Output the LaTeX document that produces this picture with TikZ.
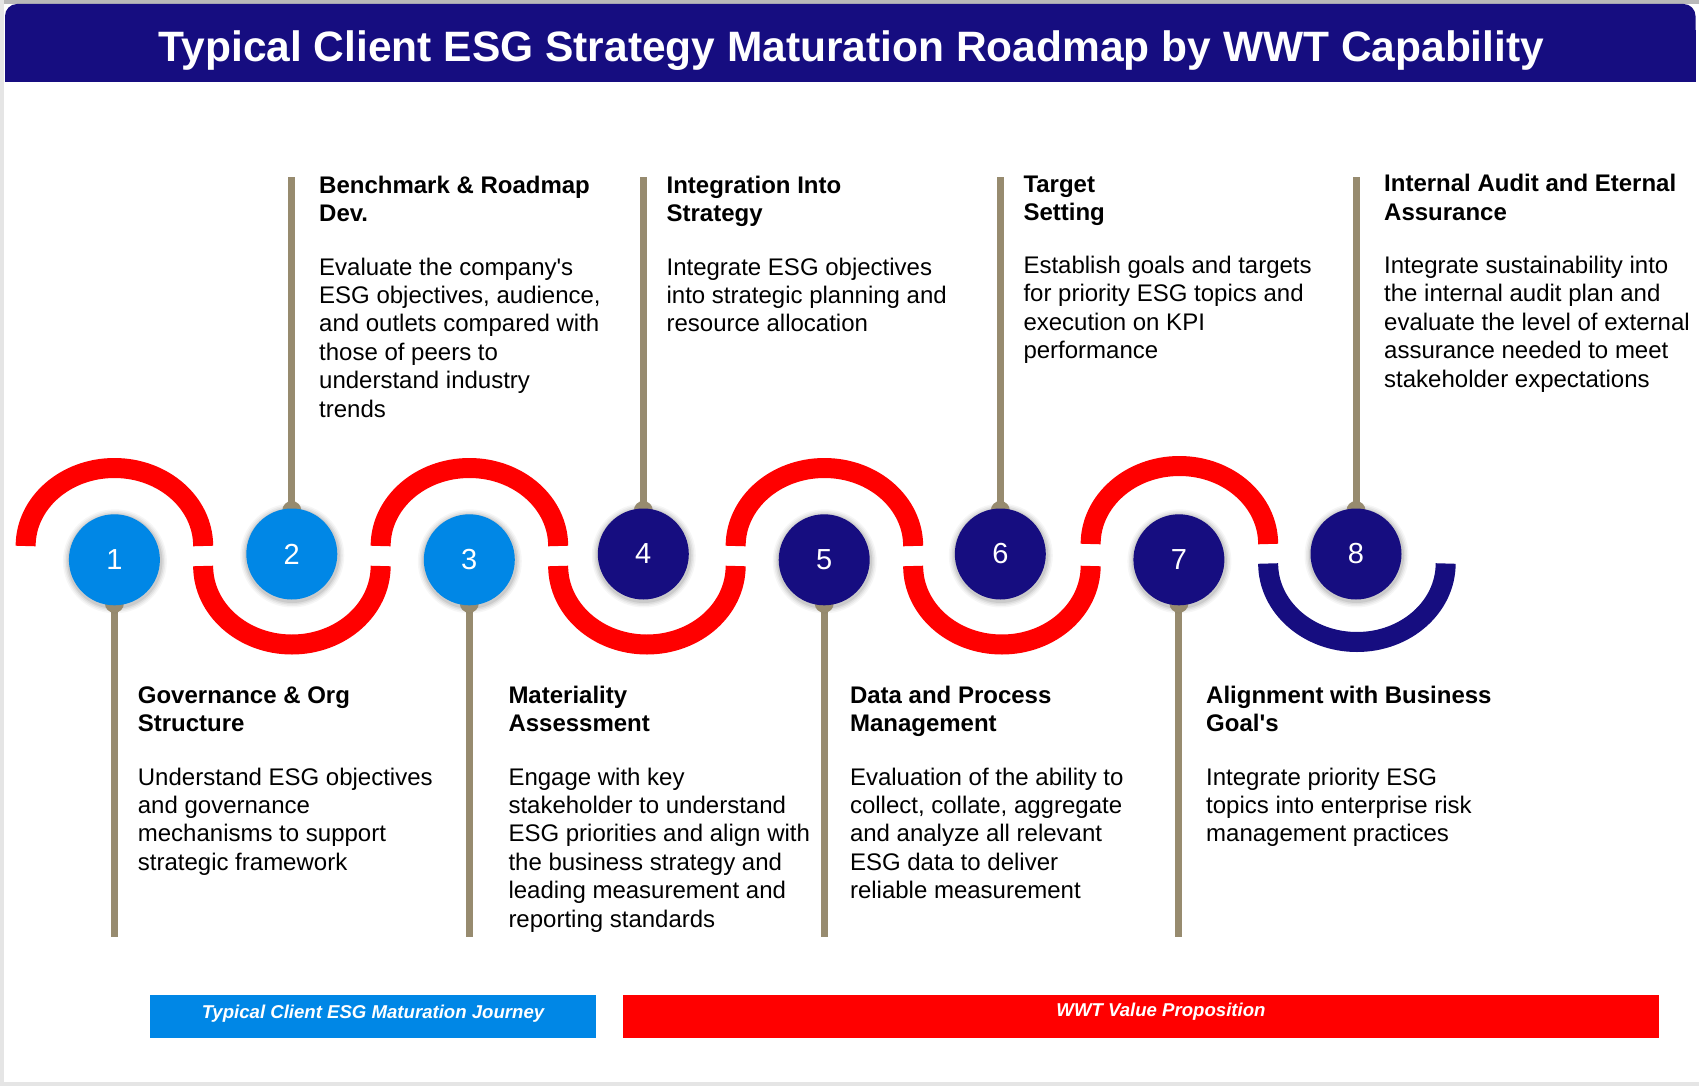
\documentclass[tikz,border=0pt]{standalone}
\usepackage{fontspec}
\setmainfont{Liberation Sans}
\definecolor{navy}{RGB}{22,13,128}
\definecolor{esgblue}{RGB}{0,135,230}
\definecolor{esgred}{RGB}{255,0,0}
\definecolor{pincol}{RGB}{151,139,111}
\definecolor{bggray}{RGB}{229,229,229}
\newcommand\li[1]{\hbox{#1}}
\newcommand\stk[1]{\vtop{\baselineskip=28.4pt\lineskiplimit=-50pt #1}}
\begin{document}
\begin{tikzpicture}[x=1pt,y=-1pt,
  stagenum/.style={circle, minimum size=91pt, inner sep=0pt, text=white, font=\fontsize{29}{29}\selectfont},
  wave/.style={line width=20pt},
  pinline/.style={draw=pincol, line width=7pt},
  ttl/.style={anchor=base west, inner sep=0pt, font=\fontsize{24}{28.4}\selectfont\bfseries},
  bdy/.style={anchor=base west, inner sep=0pt, font=\fontsize{24}{28.4}\selectfont},
  legbox/.style={inner sep=0pt, minimum height=42.7pt},
  legtext/.style={inner sep=0pt, text=white, font=\fontsize{18.6}{20}\selectfont\bfseries\itshape}]
\useasboundingbox (0,0) rectangle (1699,1086);
% background
\fill[bggray] (0,0) rectangle (1699,1086);
\fill[white] (4,4) rectangle (1699,1081.5);
\fill[gray!55] (4,0) rectangle (1699,4);
% title bar
\fill[navy, rounded corners=12pt] (5,4) rectangle (1695.5,60);
\fill[navy] (5,30) rectangle (1695.5,82);
\node[anchor=base, text=white, inner sep=0pt, font=\fontsize{42.5}{42.5}\selectfont\bfseries] (title) at (851.5,61.7) {Typical Client ESG Strategy Maturation Roadmap by WWT Capability};

% wave arcs
\draw[wave, esgred] (25.65,546) arc[start angle=180, end angle=360, x radius=88.75, y radius=78];
\draw[wave, esgred] (203.15,566) arc[start angle=180, end angle=0, x radius=88.75, y radius=78.5];
\draw[wave, esgred] (380.65,546) arc[start angle=180, end angle=360, x radius=88.75, y radius=78];
\draw[wave, esgred] (558.15,566) arc[start angle=180, end angle=0, x radius=88.75, y radius=78.5];
\draw[wave, esgred] (735.65,546) arc[start angle=180, end angle=360, x radius=88.75, y radius=78];
\draw[wave, esgred] (913.15,566) arc[start angle=180, end angle=0, x radius=88.75, y radius=78.5];
\draw[wave, esgred] (1090.65,544) arc[start angle=180, end angle=360, x radius=88.75, y radius=78];
\draw[wave, navy] (1268.15,563.5) arc[start angle=180, end angle=0, x radius=88.75, y radius=78.5];

% circle centres
\coordinate (k1) at (114.4,559.8);
\coordinate (k2) at (291.8,554);
\coordinate (k3) at (469.3,559.8);
\coordinate (k4) at (643.3,554);
\coordinate (k5) at (824.2,559.8);
\coordinate (k6) at (1000.3,554);
\coordinate (k7) at (1178.9,559.8);
\coordinate (k8) at (1356,554);
% pin ends
\coordinate (e1) at (114.4,936.7);
\coordinate (e2) at (291.8,176.7);
\coordinate (e3) at (469.3,936.7);
\coordinate (e4) at (643.3,176.7);
\coordinate (e5) at (824.2,936.7);
\coordinate (e6) at (1000.3,176.7);
\coordinate (e7) at (1178.9,936.7);
\coordinate (e8) at (1356,176.7);

% pins
\foreach \i in {1,...,8}{
  \draw[pinline] (k\i) -- (e\i);
}

% shadows
\foreach \i in {1,...,8}{
  \foreach \r/\o in {52/0.035,50.5/0.045,49/0.06,47.5/0.08}{
    \fill[black, opacity=\o] (k\i) ++(0.5,1.5) circle[radius=\r];
  }
}

% pin bulbs
\foreach \i in {1,3,5,7}{
  \fill[pincol] (k\i) ++(0,43.5) circle[radius=9.5];
}
\foreach \i in {2,4,6,8}{
  \fill[pincol] (k\i) ++(0,-43.5) circle[radius=9.5];
}

% circles
\node[stagenum, fill=esgblue] (c1) at (k1) {1};
\node[stagenum, fill=esgblue] (c2) at (k2) {2};
\node[stagenum, fill=esgblue] (c3) at (k3) {3};
\node[stagenum, fill=navy] (c4) at (k4) {4};
\node[stagenum, fill=navy] (c5) at (k5) {5};
\node[stagenum, fill=navy] (c6) at (k6) {6};
\node[stagenum, fill=navy] (c7) at (k7) {7};
\node[stagenum, fill=navy] (c8) at (k8) {8};

% texts
\node[ttl] (t1) at (137.7,703.3) {\stk{\li{Governance \& Org}\li{Structure}}};
\node[bdy] (b1) at (137.7,785) {\stk{\li{Understand ESG objectives}\li{and governance}\li{mechanisms to support}\li{strategic framework}}};

\node[ttl] (t2) at (319,193.3) {\stk{\li{Benchmark \& Roadmap}\li{Dev.}}};
\node[bdy] (b2) at (319,275) {\stk{\li{Evaluate the company\textquotesingle s}\li{ESG objectives, audience,}\li{and outlets compared with}\li{those of peers to}\li{understand industry}\li{trends}}};

\node[ttl] (t3) at (508.3,703.3) {\stk{\li{Materiality}\li{Assessment}}};
\node[bdy] (b3) at (508.3,785) {\stk{\li{Engage with key}\li{stakeholder to understand}\li{ESG priorities and align with}\li{the business strategy and}\li{leading measurement and}\li{reporting standards}}};

\node[ttl] (t4) at (666.4,193.3) {\stk{\li{Integration Into}\li{Strategy}}};
\node[bdy] (b4) at (666.4,275) {\stk{\li{Integrate ESG objectives}\li{into strategic planning and}\li{resource allocation}}};

\node[ttl] (t5) at (849.8,703.3) {\stk{\li{Data and Process}\li{Management}}};
\node[bdy] (b5) at (849.8,785) {\stk{\li{Evaluation of the ability to}\li{collect, collate, aggregate}\li{and analyze all relevant}\li{ESG data to deliver}\li{reliable measurement}}};

\node[ttl] (t6) at (1023.3,192.3) {\stk{\li{Target}\li{Setting}}};
\node[bdy] (b6) at (1023.3,273.5) {\stk{\li{Establish goals and targets}\li{for priority ESG topics and}\li{execution on KPI}\li{performance}}};

\node[ttl] (t7) at (1206,703.3) {\stk{\li{Alignment with Business}\li{Goal\textquotesingle s}}};
\node[bdy] (b7) at (1206,785) {\stk{\li{Integrate priority ESG}\li{topics into enterprise risk}\li{management practices}}};

\node[ttl] (t8) at (1384,192) {\stk{\li{Internal Audit and Eternal}\li{Assurance}}};
\node[bdy] (b8) at (1384,273.5) {\stk{\li{Integrate sustainability into}\li{the internal audit plan and}\li{evaluate the level of external}\li{assurance needed to meet}\li{stakeholder expectations}}};

% legend
\node[legbox, fill=esgblue, minimum width=446.5pt] (lb1) at (372.75,1016.35) {};
\node[legbox, fill=esgred, minimum width=1035.7pt] (lb2) at (1140.85,1016.35) {};
\node[legtext] (lt1) at (373,1014) {Typical Client ESG Maturation Journey};
\node[legtext] (lt2) at (1161,1012) {WWT Value Proposition};
\end{tikzpicture}
\end{document}
